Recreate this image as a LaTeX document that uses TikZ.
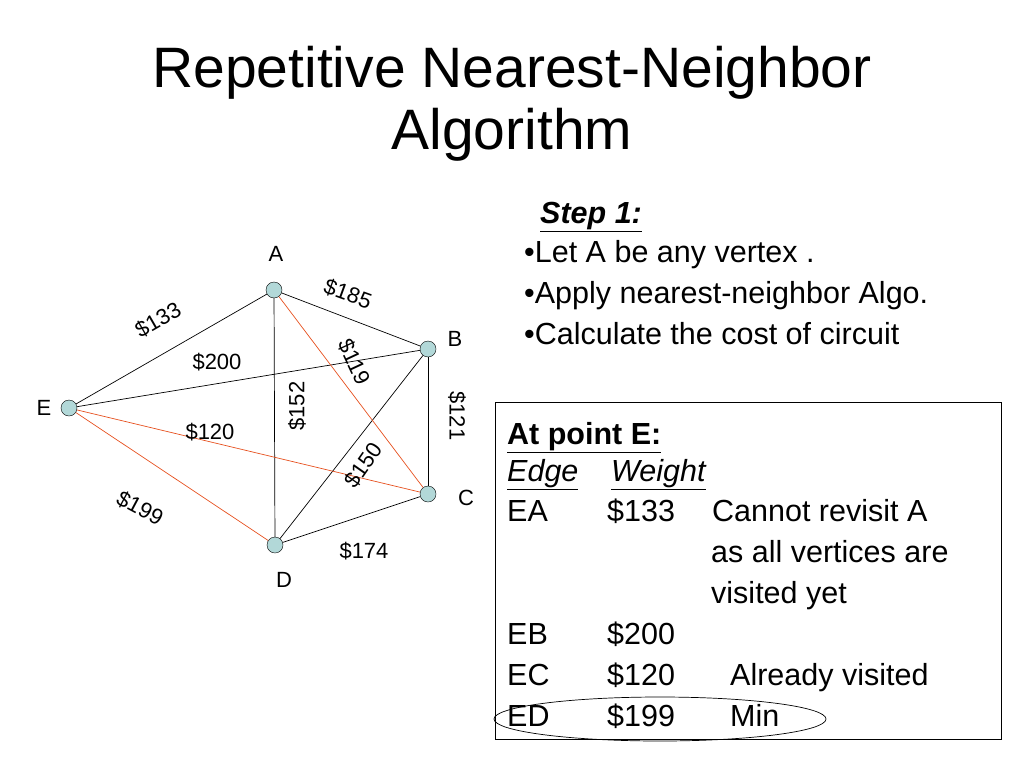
\documentclass[tikz,border=0pt]{standalone}
\usepackage{fontspec}
\setmainfont{Liberation Sans}
\newcommand\myul[1]{\underline{#1}}
\begin{document}
\begin{tikzpicture}[x=1pt,y=-1pt,
  v/.style={circle,draw,minimum size=16pt,inner sep=0pt,fill={rgb,255:red,178;green,216;blue,216}},
  e/.style={draw=black,line width=0.7pt},
  r/.style={draw={rgb,255:red,230;green,80;blue,30},line width=0.7pt},
  lab/.style={font=\fontsize{22}{26}\selectfont,inner sep=0pt},
  big/.style={font=\fontsize{30.5}{34}\selectfont,anchor=base west,inner sep=0pt}]
\useasboundingbox (0,0) rectangle (1024,768);
\node[font=\fontsize{57}{62}\selectfont,align=center] (t) at (512,104) {Repetitive Nearest-Neighbor\\Algorithm};
\node[v] (A) at (274,290) {};
\node[v] (B) at (428,349) {};
\node[v] (C) at (428,494) {};
\node[v] (D) at (275,545) {};
\node[v] (E) at (69,408) {};
\node[lab] (lA) at (276,254) {A};
\node[lab] (lB) at (455,339) {B};
\node[lab] (lC) at (466,498) {C};
\node[lab] (lD) at (284,580) {D};
\node[lab] (lE) at (44,408) {E};
\draw[e] (E) -- (A); \draw[e] (E) -- (B); \draw[e] (A) -- (B);
\draw[e] (A) -- (D); \draw[e] (B) -- (C); \draw[e] (B) -- (D); \draw[e] (C) -- (D);
\draw[r] (A) -- (C); \draw[r] (E) -- (C); \draw[r] (E) -- (D);
\node[lab,rotate=-20] (w185) at (348,294) {\$185};
\node[lab,rotate=30] (w133) at (158,320) {\$133};
\node[lab] (w200) at (217,362) {\$200};
\node[lab,rotate=-65] (w119) at (354,362) {\$119};
\node[lab,rotate=90] (w152) at (297,406) {\$152};
\node[lab,rotate=-90] (w121) at (457,416) {\$121};
\node[lab,rotate=55] (w150) at (363,465) {\$150};
\node[lab] (w120) at (210,432) {\$120};
\node[lab,rotate=-28] (w199) at (140,508) {\$199};
\node[lab] (w174) at (364,551) {\$174};
\node[big] (s1) at (540,223) {\textbf{\textit{\myul{Step 1:}}}};
\node[big] (b1) at (524,262) {•Let A be any vertex .};
\node[big] (b2) at (524,303) {•Apply nearest-neighbor Algo.};
\node[big] (b3) at (524,344) {•Calculate the cost of circuit};
\draw[line width=0.7pt] (495,402) rectangle (1001,739);
\node[big] (h) at (507,444) {\textbf{\myul{At point E:}}};
\node[big] (c1) at (507,481) {\textit{\myul{Edge}}};
\node[big] (c2) at (611,481) {\textit{\myul{Weight}}};
\node[big] (r1a) at (507,521) {EA};
\node[big] (r1b) at (607,521) {\$133};
\node[big] (r1c) at (712,521) {Cannot revisit A};
\node[big] (r1d) at (711,562) {as all vertices are};
\node[big] (r1e) at (711,603) {visited yet};
\node[big] (r2a) at (507,644) {EB};
\node[big] (r2b) at (607,644) {\$200};
\node[big] (r3a) at (507,685) {EC};
\node[big] (r3b) at (607,685) {\$120};
\node[big] (r3c) at (730,685) {Already visited};
\node[big] (r4a) at (507,726) {ED};
\node[big] (r4b) at (607,726) {\$199};
\node[big] (r4c) at (730,726) {Min};
\draw[line width=0.7pt] (660,719) ellipse (166 and 22);
\end{tikzpicture}
\end{document}
